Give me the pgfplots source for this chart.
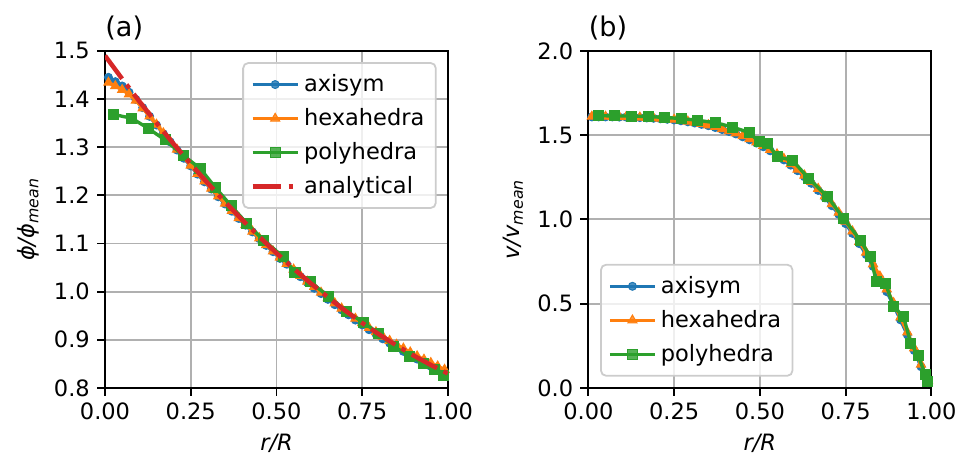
\documentclass[border=0pt]{standalone}
\usepackage{fontspec}
\setmainfont{DejaVu Sans}
\usepackage{pgfplots}
\pgfplotsset{compat=1.18}

\definecolor{tabblue}{HTML}{1F77B4}
\definecolor{taborange}{HTML}{FF7F0E}
\definecolor{tabgreen}{HTML}{2CA02C}
\definecolor{tabred}{HTML}{D62728}
\definecolor{gridgray}{HTML}{B0B0B0}
\definecolor{legendgray}{HTML}{CCCCCC}

\pgfplotsset{
  panel/.style={
    scale only axis, width=164.6pt, height=161.8pt,
    clip mode=individual,
    xmin=0, xmax=1, xtick={0,0.25,0.5,0.75,1},
    grid=major, grid style={gridgray, line width=0.86pt},
    axis line style={black, line width=0.86pt},
    tick pos=left, tick align=outside, major tick length=3.8pt,
    every tick/.style={black, line width=0.86pt},
    tick label style={font=\fontsize{10.8}{13}\selectfont},
    label style={font=\fontsize{10.8}{13}\selectfont},
    /pgf/number format/assume math mode=true,
    xticklabel style={/pgf/number format/fixed, /pgf/number format/fixed zerofill, /pgf/number format/precision=2},
    yticklabel style={/pgf/number format/fixed, /pgf/number format/fixed zerofill, /pgf/number format/precision=1},
    xlabel={\textit{r/R}},
    title style={at={(0,1)}, anchor=base west, yshift=0.7pt, inner sep=0pt, font=\fontsize{13}{15}\selectfont},
    legend cell align=left,
    legend style={draw=legendgray, line width=0.86pt, rounded corners=2.5pt, fill=white, fill opacity=0.8, text opacity=1,
      font=\fontsize{10.8}{13}\selectfont, inner xsep=3.5pt, inner ysep=3.5pt, row sep=2.6pt},
    legend image code/.code={\draw[mark repeat=2, mark phase=2, #1] plot coordinates {(0pt,0pt) (10.8pt,0pt) (21.6pt,0pt)};},
  },
  axsym/.style={tabblue, line width=1.62pt, mark=*, mark size=1.9pt, mark options={solid, fill=tabblue, draw=tabblue, line width=0.5pt}},
  hexa/.style={taborange, line width=1.62pt, mark=triangle*, mark size=2.5pt, mark options={solid, fill=taborange, draw=taborange, line width=0.5pt}},
  poly/.style={tabgreen, line width=1.62pt, mark=square*, mark size=2.4pt, mark options={solid, fill=tabgreen, draw=tabgreen, line width=0.5pt}},
  anal/.style={tabred, line width=2.16pt, dash pattern=on 13.8pt off 3.5pt on 2.2pt off 3.5pt, no marks},
}

\begin{document}
\begin{tikzpicture}
\useasboundingbox (0,0) rectangle (462.2pt,219.4pt);

% (a) flux
\begin{axis}[panel, at={(50.4pt,33.2pt)}, anchor=south west,
  ymin=0.8, ymax=1.5, ytick={0.8,0.9,1.0,1.1,1.2,1.3,1.4,1.5},
  ylabel={\textit{ϕ/ϕ}\textsubscript{\textit{mean}}},
  title={(a)},
  legend style={at={(1,1)}, anchor=north east, xshift=-5.4pt, yshift=-5.4pt}]
\addplot[axsym] coordinates {
(0.01,1.445) (0.03,1.436) (0.05,1.427) (0.07,1.414) (0.09,1.399)
(0.11,1.382) (0.13,1.364) (0.15,1.346) (0.17,1.328) (0.19,1.311)
(0.21,1.294) (0.23,1.277) (0.25,1.261) (0.27,1.244) (0.29,1.228)
(0.31,1.213) (0.33,1.197) (0.35,1.182) (0.37,1.167) (0.39,1.152)
(0.41,1.138) (0.43,1.124) (0.45,1.110) (0.47,1.096) (0.49,1.083)
(0.51,1.069) (0.53,1.057) (0.55,1.044) (0.57,1.031) (0.59,1.019)
(0.61,1.007) (0.63,0.996) (0.65,0.984) (0.67,0.973) (0.69,0.962)
(0.71,0.952) (0.73,0.941) (0.75,0.931) (0.77,0.921) (0.79,0.912)
(0.81,0.902) (0.83,0.893) (0.85,0.885) (0.87,0.876) (0.89,0.868)
(0.91,0.860) (0.93,0.852) (0.95,0.845) (0.97,0.837) (0.99,0.830)
};
\addlegendentry{axisym}
\addplot[hexa] coordinates {
(0.01,1.434) (0.03,1.427) (0.05,1.419) (0.07,1.410) (0.09,1.397)
(0.11,1.381) (0.13,1.364) (0.15,1.347) (0.17,1.329) (0.19,1.312)
(0.21,1.295) (0.23,1.278) (0.25,1.262) (0.27,1.245) (0.29,1.229)
(0.31,1.214) (0.33,1.198) (0.35,1.183) (0.37,1.168) (0.39,1.153)
(0.41,1.139) (0.43,1.125) (0.45,1.111) (0.47,1.097) (0.49,1.084)
(0.51,1.071) (0.53,1.058) (0.55,1.046) (0.57,1.033) (0.59,1.021)
(0.61,1.010) (0.63,0.998) (0.65,0.987) (0.67,0.976) (0.69,0.965)
(0.71,0.955) (0.73,0.944) (0.75,0.935) (0.77,0.925) (0.79,0.916)
(0.81,0.907) (0.83,0.898) (0.85,0.890) (0.87,0.882) (0.89,0.874)
(0.91,0.866) (0.93,0.859) (0.95,0.852) (0.97,0.845) (0.99,0.838)
};
\addlegendentry{hexahedra}
\addplot[poly] coordinates {
(0.024,1.368) (0.078,1.360) (0.126,1.339) (0.175,1.315) (0.228,1.283)
(0.277,1.256) (0.322,1.216) (0.368,1.178) (0.413,1.142) (0.462,1.107)
(0.520,1.072) (0.554,1.040) (0.598,1.021) (0.651,0.990) (0.705,0.959)
(0.753,0.936) (0.797,0.914) (0.840,0.887) (0.889,0.866) (0.928,0.851)
(0.960,0.839) (0.986,0.826)
};
\addlegendentry{polyhedra}
\addplot[anal] coordinates {
(0.00,1.4900) (0.05,1.4418) (0.10,1.3952) (0.15,1.3502) (0.20,1.3068)
(0.25,1.2650) (0.30,1.2248) (0.35,1.1862) (0.40,1.1492) (0.45,1.1138)
(0.50,1.0800) (0.55,1.0478) (0.60,1.0172) (0.65,0.9882) (0.70,0.9608)
(0.75,0.9350) (0.80,0.9108) (0.85,0.8882) (0.90,0.8672) (0.95,0.8478)
(1.00,0.8300)
};
\addlegendentry{analytical}
\end{axis}

% (b) velocity
\begin{axis}[panel, at={(282.4pt,33.2pt)}, anchor=south west,
  ymin=0, ymax=2, ytick={0,0.5,1.0,1.5,2.0},
  ylabel={\textit{v/v}\textsubscript{\textit{mean}}},
  title={(b)},
  legend style={at={(0,0)}, anchor=south west, xshift=5.6pt, yshift=5.4pt}]
\addplot[axsym] coordinates {
(0.01,1.608) (0.03,1.608) (0.05,1.608) (0.07,1.608) (0.09,1.607)
(0.11,1.607) (0.13,1.606) (0.15,1.604) (0.17,1.602) (0.19,1.600)
(0.21,1.597) (0.23,1.594) (0.25,1.590) (0.27,1.585) (0.29,1.579)
(0.31,1.572) (0.33,1.564) (0.35,1.556) (0.37,1.545) (0.39,1.533)
(0.41,1.521) (0.43,1.507) (0.45,1.490) (0.47,1.472) (0.49,1.453)
(0.51,1.431) (0.53,1.407) (0.55,1.381) (0.57,1.353) (0.59,1.322)
(0.61,1.289) (0.63,1.253) (0.65,1.214) (0.67,1.172) (0.69,1.128)
(0.71,1.081) (0.73,1.030) (0.75,0.975) (0.77,0.917) (0.79,0.856)
(0.81,0.791) (0.83,0.721) (0.85,0.649) (0.87,0.571) (0.89,0.490)
(0.91,0.404) (0.93,0.315) (0.95,0.222) (0.97,0.126) (0.99,0.032)
};
\addlegendentry{axisym}
\addplot[hexa] coordinates {
(0.01,1.610) (0.03,1.610) (0.05,1.610) (0.07,1.609) (0.09,1.609)
(0.11,1.608) (0.13,1.607) (0.15,1.605) (0.17,1.603) (0.19,1.601)
(0.21,1.599) (0.23,1.596) (0.25,1.592) (0.27,1.587) (0.29,1.581)
(0.31,1.575) (0.33,1.567) (0.35,1.559) (0.37,1.549) (0.39,1.537)
(0.41,1.525) (0.43,1.511) (0.45,1.495) (0.47,1.477) (0.49,1.458)
(0.51,1.437) (0.53,1.413) (0.55,1.387) (0.57,1.360) (0.59,1.329)
(0.61,1.296) (0.63,1.261) (0.65,1.223) (0.67,1.182) (0.69,1.138)
(0.71,1.091) (0.73,1.041) (0.75,0.987) (0.77,0.929) (0.79,0.868)
(0.81,0.804) (0.83,0.734) (0.85,0.662) (0.87,0.585) (0.89,0.504)
(0.91,0.419) (0.93,0.330) (0.95,0.236) (0.97,0.139) (0.99,0.042)
};
\addlegendentry{hexahedra}
\addplot[poly] coordinates {
(0.030,1.615) (0.077,1.614) (0.126,1.613) (0.174,1.610) (0.222,1.605)
(0.271,1.598) (0.319,1.588) (0.372,1.573) (0.420,1.548) (0.469,1.515)
(0.498,1.460) (0.522,1.450) (0.551,1.372) (0.595,1.350) (0.643,1.242)
(0.697,1.135) (0.745,1.004) (0.793,0.876) (0.822,0.778) (0.840,0.630)
(0.866,0.620) (0.890,0.485) (0.919,0.422) (0.940,0.265) (0.962,0.190)
(0.982,0.080) (0.990,0.040)
};
\addlegendentry{polyhedra}
\end{axis}
\end{tikzpicture}
\end{document}
